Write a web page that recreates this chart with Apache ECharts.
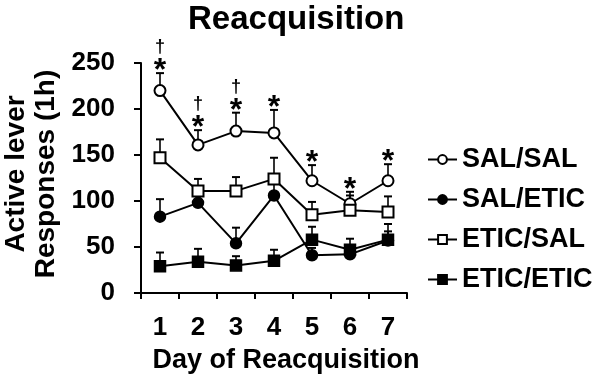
<!DOCTYPE html>
<html>
<head>
<meta charset="utf-8">
<script src="https://cdn.jsdelivr.net/npm/echarts@6/dist/echarts.min.js"></script>
<style>
  html, body { margin: 0; padding: 0; background: #fff; }
  #mainChart { width: 602px; height: 386px; }
</style>
</head>
<body>
<div id="mainChart"></div>
<script>
// data
var days = ['1', '2', '3', '4', '5', '6', '7'];
var yTicks = [0, 50, 100, 150, 200, 250];

var salSal = [220, 161, 176, 174, 122, 97, 122];
var salSalErr = [19, 16, 20, 25, 17, 13, 18];
var salEtic = [83, 98, 54, 106, 41, 42, 57];
var salEticErr = [19, 10, 17, 14, 8, 8, 10];
var eticSal = [147, 111, 111, 124, 85, 90, 88];
var eticSalErr = [20, 13, 15, 23, 14, 16, 17];
var eticEtic = [29, 34, 30, 35, 58, 47, 58];
var eticEticErr = [15, 14, 10, 12, 14, 12, 17];

// significance marks, placed above SAL/SAL error bars
var stars = [1, 1, 1, 1, 1, 1, 1];
var daggers = [1, 1, 1, 0, 0, 0, 0];

var font = "'Liberation Sans', Arial, sans-serif";

var myChart = echarts.init(document.getElementById('mainChart'));

function errData(mean, err) {
    return mean.map(function (v, i) { return [i, v, v + err[i]]; });
}

// upper error bar: stem + cap
function renderErr(params, api) {
    var p0 = api.coord([api.value(0), api.value(1)]);
    var p1 = api.coord([api.value(0), api.value(2)]);
    return {
        type: 'group',
        children: [{
            type: 'line',
            shape: { x1: p0[0], y1: p0[1], x2: p1[0], y2: p1[1] },
            style: { stroke: '#000', lineWidth: 1.6 }
        }, {
            type: 'line',
            shape: { x1: p1[0] - 4, y1: p1[1], x2: p1[0] + 4, y2: p1[1] },
            style: { stroke: '#000', lineWidth: 2 }
        }]
    };
}

function errSeries(name, mean, err) {
    return {
        name: name + ' err',
        type: 'custom',
        z: 1,
        silent: true,
        renderItem: renderErr,
        data: errData(mean, err)
    };
}

// [day index, top of error bar, star flag, dagger flag]
var markData = salSal.map(function (v, i) {
    return [i, v + salSalErr[i], stars[i], daggers[i]];
});

function renderMarks(params, api) {
    var p = api.coord([api.value(0), api.value(1)]);
    var kids = [];
    if (api.value(2)) {
        kids.push({
            type: 'text',
            style: {
                text: '*', x: p[0], y: p[1] - 2,
                font: 'bold 32px ' + font, fill: '#000',
                align: 'center', verticalAlign: 'middle'
            }
        });
    }
    if (api.value(3)) {
        kids.push({
            type: 'text',
            style: {
                text: '\u2020', x: p[0], y: p[1] - 26,
                font: 'bold 18px ' + font, fill: '#000',
                align: 'center', verticalAlign: 'middle'
            }
        });
    }
    return { type: 'group', children: kids };
}

function lineSeries(name, data, symbol) {
    return {
        name: name,
        type: 'line',
        data: data,
        z: 3,
        symbol: symbol,
        symbolSize: 11,
        showAllSymbol: true,
        lineStyle: { color: '#000', width: 2 },
        itemStyle: { color: '#000', borderColor: '#000', borderWidth: 1.5 },
        emphasis: { disabled: true }
    };
}

var option = {
    animation: false,
    backgroundColor: '#fff',
    title: {
        text: 'Reacquisition',
        left: 188,
        top: 3,
        padding: 0,
        textStyle: { fontFamily: font, fontWeight: 'bold', fontSize: 33, color: '#000' }
    },
    legend: {
        data: ['SAL/SAL', 'SAL/ETIC', 'ETIC/SAL', 'ETIC/ETIC'],
        orient: 'vertical',
        left: 427,
        top: 146,
        padding: 0,
        itemWidth: 29,
        itemHeight: 11,
        itemGap: 13,
        textStyle: { fontFamily: font, fontWeight: 'bold', fontSize: 27, color: '#000' }
    },
    grid: {
        left: 141,
        top: 63,
        width: 266,
        height: 230
    },
    xAxis: {
        type: 'category',
        data: days,
        boundaryGap: true,
        name: 'Day of Reacquisition',
        nameLocation: 'middle',
        nameGap: 54,
        nameTextStyle: {
            fontFamily: font, fontWeight: 'bold', fontSize: 27, color: '#000',
            padding: [0, 0, 0, 24]
        },
        axisLine: { lineStyle: { color: '#000', width: 2 } },
        axisTick: { show: true, length: 6, lineStyle: { color: '#000', width: 2 } },
        axisLabel: {
            margin: 22,
            fontFamily: font, fontWeight: 'bold', fontSize: 26, color: '#000'
        },
        splitLine: { show: false }
    },
    yAxis: {
        type: 'value',
        min: yTicks[0],
        max: yTicks[yTicks.length - 1],
        interval: 50,
        name: 'Active lever\nResponses (1h)',
        nameLocation: 'middle',
        nameGap: 80,
        nameRotate: 90,
        nameTextStyle: {
            fontFamily: font, fontWeight: 'bold', fontSize: 28, color: '#000',
            lineHeight: 30,
            padding: [0, 0, 0, 8]
        },
        axisLine: { show: true, lineStyle: { color: '#000', width: 2 } },
        axisTick: { show: true, length: 7, lineStyle: { color: '#000', width: 2 } },
        axisLabel: {
            margin: 26,
            fontFamily: font, fontWeight: 'bold', fontSize: 26, color: '#000'
        },
        splitLine: { show: false }
    },
    series: [
        errSeries('SAL/SAL', salSal, salSalErr),
        errSeries('SAL/ETIC', salEtic, salEticErr),
        errSeries('ETIC/SAL', eticSal, eticSalErr),
        errSeries('ETIC/ETIC', eticEtic, eticEticErr),
        lineSeries('SAL/SAL', salSal, 'emptyCircle'),
        lineSeries('SAL/ETIC', salEtic, 'circle'),
        lineSeries('ETIC/SAL', eticSal, 'emptyRect'),
        lineSeries('ETIC/ETIC', eticEtic, 'rect'),
        {
            name: 'marks',
            type: 'custom',
            z: 4,
            silent: true,
            renderItem: renderMarks,
            data: markData
        }
    ]
};

myChart.setOption(option);
</script>
</body>
</html>
